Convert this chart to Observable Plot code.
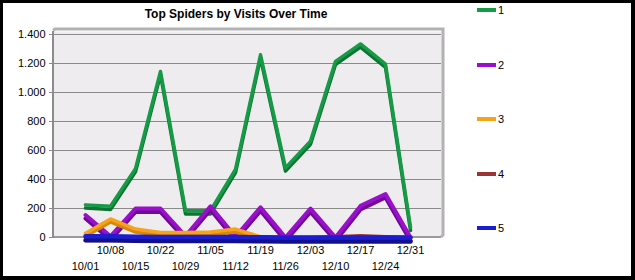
<!DOCTYPE html>
<html><head><meta charset="utf-8">
<script src="https://cdn.jsdelivr.net/npm/d3@7"></script>
<script src="https://cdn.jsdelivr.net/npm/@observablehq/plot@0.6"></script>
<style>
body{margin:0;background:#fff;font-family:"Liberation Sans",Arial,sans-serif;}
#wrap{position:relative;width:635px;height:280px;overflow:hidden;background:#fff;}
#chart{position:absolute;left:0;top:0;}
#border{position:absolute;left:0;top:0;width:635px;height:280px;box-sizing:border-box;border:3px solid #000;border-right-width:4px;border-bottom-width:4px;pointer-events:none;}
#title{position:absolute;left:0;top:7px;width:472px;text-align:center;font:bold 12px "Liberation Sans",Arial,sans-serif;line-height:14px;color:#000;}
.lg{position:absolute;left:477px;height:12px;font:11px "Liberation Sans",Arial,sans-serif;line-height:12px;color:#000;white-space:nowrap;}
.lg span.sw{display:inline-block;width:19px;height:4px;vertical-align:middle;margin-right:2px;position:relative;top:-1px;}
</style></head>
<body>
<div id="wrap">
  <div id="chart"></div>
  <div id="title">Top Spiders by Visits Over Time</div>
  <div id="legend"></div>
  <div id="border"></div>
</div>
<script>
const dates = ["10/01","10/08","10/15","10/22","10/29","11/05","11/12","11/19","11/26","12/03","12/10","12/17","12/24","12/31"];
const seriesNames = ["1","2","3","4","5"];
const s1 = [225, 215, 475, 1145, 185, 185, 470, 1260, 480, 665, 1215, 1335, 1195, 70];
const s2 = [155, 8, 200, 200, 10, 215, 5, 208, 0, 200, 0, 218, 300, 0];
const s3 = [30, 128, 58, 35, 35, 38, 58, 5, 0, 0, 0, 0, 0, 0];
const s4 = [0, 0, 0, 0, 0, 0, 0, 0, 0, 0, 6, 12, 6, 0];
const s5 = [8, 8, 6, 4, 4, 4, 4, 2, 0, 0, 0, 0, 0, 0];
const yTicks = [0, 200, 400, 600, 800, 1000, 1200, 1400];
const colors = ["#169a45", "#9a0fcc", "#f7a21b", "#993535", "#1c1cd0"];
const darks  = ["#0d7434", "#6e0a96", "#d9860c", "#6e2222", "#10108f"];
const widths = [3.5, 4, 3.5, 3.5, 4.5];
const depths = [3.2, 3.5, 3, 3, 4];

const values = [s1, s2, s3, s4, s5];
const rows = values.map((vals, k) => vals.map((v, i) => ({date: dates[i], value: v, series: seriesNames[k]})));

const fmt = d => d3.format(",")(d).replace(/,/g, ".");

function base3d(index, scales, vals, dims) {
  const {width, height, marginLeft: l, marginRight: r, marginTop: t, marginBottom: b} = dims;
  const x1 = l, x2 = width - r, y2 = height - b;
  const g = d3.create("svg:g");
  g.append("line").attr("x1", x1).attr("x2", x2).attr("y1", y2).attr("y2", y2)
    .attr("stroke", "#9a9a9a").attr("stroke-width", 2);
  return g.node();
}
function box3d(index, scales, vals, dims) {
  const {width, height, marginLeft: l, marginRight: r, marginTop: t, marginBottom: b} = dims;
  const x1 = l, x2 = width - r, y1 = t, y2 = height - b;
  const g = d3.create("svg:g");
  g.append("path")
    .attr("d", `M${x1},${y1 - 0.5}L${x1 + 2},${y1 - 2}L${x2 + 2},${y1 - 2}L${x2 + 2},${y2 - 2}L${x2},${y2}`)
    .attr("fill", "none").attr("stroke", "#b2b2b2").attr("stroke-width", 3);
  g.append("line").attr("x1", x1).attr("x2", x1).attr("y1", y1).attr("y2", y2 + 1)
    .attr("stroke", "#8c8c8c").attr("stroke-width", 2);
  return g.node();
}

const lineMarks = [];
rows.forEach((r, k) => {
  lineMarks.push(Plot.line(r, {x: "date", y: "value", stroke: darks[k], strokeWidth: widths[k], dy: depths[k]}));
  lineMarks.push(Plot.line(r, {x: "date", y: "value", stroke: colors[k], strokeWidth: widths[k]}));
});

const chart = Plot.plot({
  width: 635,
  height: 280,
  marginLeft: 53,
  marginRight: 194,
  marginTop: 31,
  marginBottom: 43,
  style: {fontFamily: "Liberation Sans, Arial, sans-serif", fontSize: "11px", background: "transparent", color: "#000"},
  x: {type: "point", domain: dates, insetLeft: 14, insetRight: 14},
  y: {domain: [0, 1400], insetTop: 3},
  marks: [
    Plot.frame({fill: "#efecef", stroke: "none"}),
    Plot.ruleY(yTicks, {stroke: "#8a8a8a", strokeWidth: 1}),
    base3d,
    ...lineMarks,
    box3d,
    Plot.axisY({ticks: yTicks, tickFormat: fmt, tickSize: 4, tickPadding: 4, fontSize: 11, stroke: "#8c8c8c", fill: "#000", label: null}),
    Plot.axisX(dates.filter((d, i) => i % 2 === 1), {tickSize: 0, tickPadding: 9, fontSize: 11, fill: "#000", label: null}),
    Plot.axisX(dates.filter((d, i) => i % 2 === 0), {tickSize: 0, tickPadding: 25, fontSize: 11, fill: "#000", label: null})
  ]
});
document.getElementById("chart").appendChild(chart);

const legend = document.getElementById("legend");
seriesNames.forEach((name, k) => {
  const d = document.createElement("div");
  d.className = "lg";
  d.style.top = (4 + k * 54.5) + "px";
  d.innerHTML = `<span class="sw" style="background:${colors[k]}"></span>${name}`;
  legend.appendChild(d);
});
</script>
</body></html>
